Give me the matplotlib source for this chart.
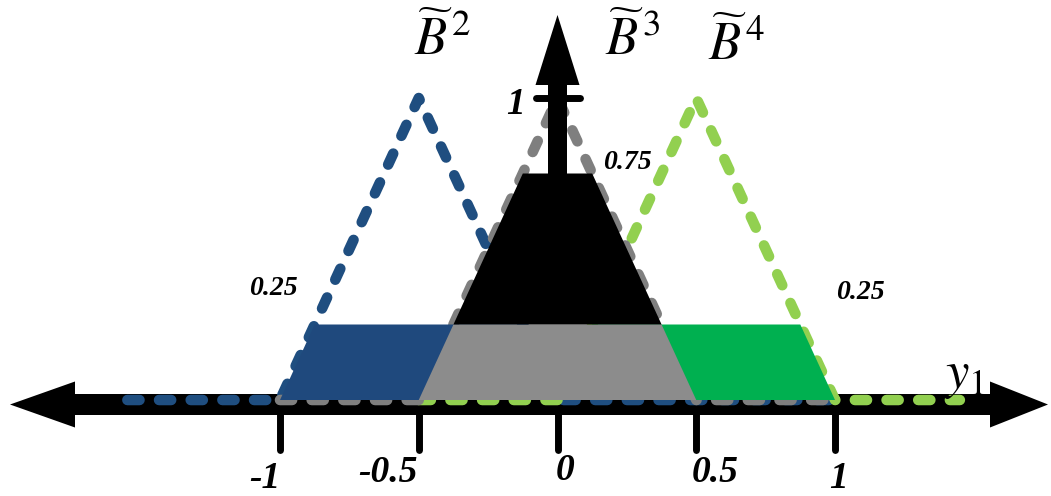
import matplotlib
matplotlib.use("Agg")
import matplotlib.pyplot as plt
from matplotlib.patches import Polygon

plt.rcParams["mathtext.fontset"] = "stix"

# Triangular fuzzy sets on the output variable y1
set_names = ["2", "3", "4"]
feet_left = [-1.0, -0.5, 0.0]
peaks = [-0.5, 0.0, 0.5]
feet_right = [0.0, 0.5, 1.0]
# stretch of the zero level drawn for each set
zero_from = [-1.55, -1.0, -0.5]
zero_to = [1.0, 1.0, 1.45]
line_colors = ["#1f4e80", "#7f7f7f", "#92d050"]

# Clipped (fired) bands: which set, lower and upper membership level
band_set = [0, 2, 1, 1]
band_low = [0.0, 0.0, 0.0, 0.25]
band_high = [0.25, 0.25, 0.25, 0.75]
band_colors = ["#1f497d", "#00b050", "#8c8c8c", "#000000"]

# Axis ticks
tick_values = [-1.0, -0.5, 0.0, 0.5, 1.0]
tick_labels = ["-1", "-0.5", "0", "0.5", "1"]
level_labels = ["0.25", "0.75", "0.25"]

W, H = 1051, 496
SX, SY = 277.5, 302.0          # pixels per data unit
X0, Y0 = 557.5, 400.0          # pixel position of the origin

fig = plt.figure(figsize=(W / 100, H / 100), dpi=100)
ax = fig.add_axes([0, 0, 1, 1])
ax.set_xlim(-X0 / SX, (W - X0) / SX)
ax.set_ylim(-(H - Y0) / SY, Y0 / SY)
ax.axis("off")


def px(n):
    return n / SX


def py(n):
    return n / SY


def x_of(set_idx, level, side):
    a, b, c = feet_left[set_idx], peaks[set_idx], feet_right[set_idx]
    if side < 0:
        return a + level * (b - a)
    return c - level * (c - b)


# horizontal double-headed axis
yc = -py(4.5)
hs, hh = py(10.5), py(23)
xl_tip, xl_base = px(10 - X0), px(75 - X0)
xr_base, xr_tip = px(990 - X0), px(1048 - X0)
axis_poly = [
    (xl_tip, yc), (xl_base, yc + hh), (xl_base, yc + hs),
    (xr_base, yc + hs), (xr_base, yc + hh), (xr_tip, yc),
    (xr_base, yc - hh), (xr_base, yc - hs), (xl_base, yc - hs),
    (xl_base, yc - hh),
]
ax.add_patch(Polygon(axis_poly, closed=True, color="black", lw=0, zorder=1))

# x ticks
for t in tick_values:
    ax.plot([t, t], [yc, -py(50)], color="black", lw=5, solid_capstyle="round",
            zorder=1)

# dashed membership functions
dash_z = [2.0, 2.2, 2.1]
for i in range(len(set_names)):
    xs = [zero_from[i], feet_left[i], peaks[i], feet_right[i], zero_to[i]]
    ys = [0, 0, 1, 0, 0]
    ax.plot(xs, ys, color=line_colors[i], lw=7.6, dashes=(1.15, 1.85),
            dash_capstyle="round", solid_joinstyle="round", zorder=dash_z[i])

# clipped bands
for k in range(len(band_set)):
    i = band_set[k]
    lo, hi = band_low[k], band_high[k]
    poly = [(x_of(i, lo, -1), lo), (x_of(i, hi, -1), hi),
            (x_of(i, hi, 1), hi), (x_of(i, lo, 1), lo)]
    ax.add_patch(Polygon(poly, closed=True, color=band_colors[k], lw=0,
                         zorder=3 + 0.1 * k))

# vertical axis arrow
vs, vh = px(9.5), px(22)
v_base, v_tip = (Y0 - 85) / SY, (Y0 - 15) / SY
ax.add_patch(Polygon([(-vs, 0.3), (-vs, v_base), (-vh, v_base), (0, v_tip),
                      (vh, v_base), (vs, v_base), (vs, 0.3)],
                     closed=True, color="black", lw=0, zorder=4))
ax.plot([-px(22), px(22)], [1.0, 1.0], color="black", lw=5,
        solid_capstyle="round", zorder=4)

num_font = dict(family="Liberation Serif", weight="bold", style="italic")

# x tick labels
tick_offsets = [(-15, -78), (-31, -73), (8, -71), (19, -73), (3, -78)]
for t, lab, (dx, dy) in zip(tick_values, tick_labels, tick_offsets):
    ax.annotate(lab, xy=(t, 0), xytext=(dx, dy), textcoords="offset pixels",
                ha="center", va="center", fontsize=27, **num_font)

# vertical tick label
ax.annotate("1", xy=(0, 1), xytext=(-42, -6), textcoords="offset pixels",
            ha="center", va="center", fontsize=27, **num_font)

# level labels
level_anchor = [(-1.0, 0.25), (0.0, 0.75), (1.0, 0.25)]
level_offsets = [(-7, 36), (70, 11), (25, 32)]
for lab, xy, off in zip(level_labels, level_anchor, level_offsets):
    ax.annotate(lab, xy=xy, xytext=off, textcoords="offset pixels",
                ha="center", va="center", fontsize=20, **num_font)

# set names
name_offsets = [(24, 58), (75, 58), (40, 53)]
for i, name in enumerate(set_names):
    ax.annotate(r"$\widetilde{B}^{\,%s}$" % name, xy=(peaks[i], 1),
                xytext=name_offsets[i], textcoords="offset pixels",
                ha="center", va="center", fontsize=38)

# variable name
ax.text(px(965 - X0), py(Y0 - 375), r"$y_{1}$", ha="center", va="center",
        fontsize=38)

fig.savefig("out.png", dpi=100)
